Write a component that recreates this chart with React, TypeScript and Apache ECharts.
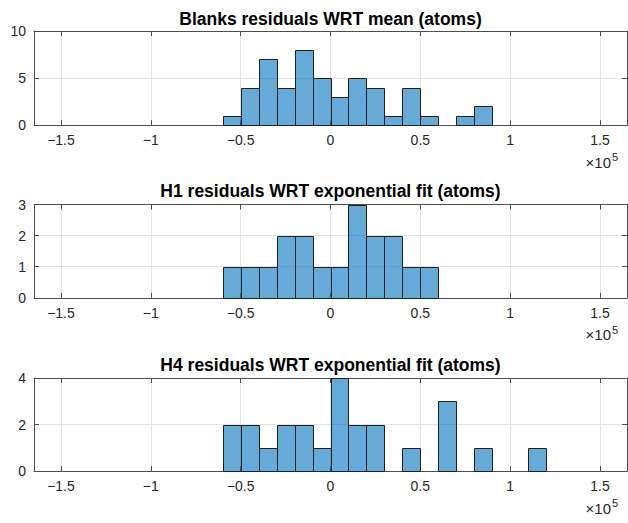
import React, { useEffect, useRef } from "react";
import * as echarts from "echarts";

// Bin left edges (atoms), bin width 1e4
const binStarts = [
  -60000, -50000, -40000, -30000, -20000, -10000, 0, 10000, 20000, 30000,
  40000, 50000, 60000, 70000, 80000, 90000, 100000, 110000,
];
const binWidth = 10000;

const titles = [
  "Blanks residuals WRT mean (atoms)",
  "H1 residuals WRT exponential fit (atoms)",
  "H4 residuals WRT exponential fit (atoms)",
];

const blanksCounts = [1, 4, 7, 4, 8, 5, 3, 5, 4, 1, 4, 1, 0, 1, 2];
const h1Counts = [1, 1, 1, 2, 2, 1, 1, 3, 2, 2, 1, 1];
const h4Counts = [2, 2, 1, 2, 2, 1, 4, 2, 2, 0, 1, 0, 3, 0, 1, 0, 0, 1];

const xTicks = [-150000, -100000, -50000, 0, 50000, 100000, 150000];
const xMin = -165000;
const xMax = 165000;
const yMaxes = [10, 3, 4];
const yIntervals = [5, 1, 2];

const FONT = "'Liberation Sans', Arial, Helvetica, sans-serif";
const AXIS_COLOR = "#4d4d4d";
const GRID_COLOR = "#e2e2e2";
const TEXT_COLOR = "#262626";

const gridTops = [31, 204.5, 378];
const gridHeights = [94.3, 93.3, 93];
const titleYs = [19, 190.5, 364.5];

function fmtX(v: number) {
  const s = v / 100000;
  if (s === 0) return "0";
  return s < 0 ? "\u2212" + String(-s) : String(s);
}

export default function App() {
  const ref = useRef<HTMLDivElement>(null);
  useEffect(() => {
    if (!ref.current) return;
    const chart = echarts.init(ref.current, undefined, { renderer: "svg" });
    const allCounts = [blanksCounts, h1Counts, h4Counts];

    const grids: any[] = [];
    const xAxes: any[] = [];
    const yAxes: any[] = [];
    const series: any[] = [];
    const graphics: any[] = [];

    allCounts.forEach((counts, i) => {
      grids.push({
        left: 34,
        right: 1,
        top: gridTops[i],
        height: gridHeights[i],
        containLabel: false,
      });
      xAxes.push({
        type: "value",
        gridIndex: i,
        position: "bottom",
        min: xMin,
        max: xMax,
        axisLine: { show: true, onZero: false, lineStyle: { color: AXIS_COLOR, width: 1 } },
        axisTick: {
          show: true,
          inside: true,
          length: 5,
          customValues: xTicks,
          lineStyle: { color: AXIS_COLOR, width: 1 },
        },
        axisLabel: {
          show: true,
          customValues: xTicks,
          formatter: (v: number) => fmtX(v),
          color: TEXT_COLOR,
          fontSize: 14,
          fontFamily: FONT,
          margin: 8,
          showMinLabel: true,
          showMaxLabel: true,
        },
        splitLine: { show: true, lineStyle: { color: GRID_COLOR, width: 1 } },
      });
      xAxes.push({
        type: "value",
        gridIndex: i,
        position: "top",
        min: xMin,
        max: xMax,
        axisLine: { show: true, onZero: false, lineStyle: { color: AXIS_COLOR, width: 1 } },
        axisTick: {
          show: true,
          inside: true,
          length: 5,
          customValues: xTicks,
          lineStyle: { color: AXIS_COLOR, width: 1 },
        },
        axisLabel: { show: false },
        splitLine: { show: false },
      });
      yAxes.push({
        type: "value",
        gridIndex: i,
        position: "left",
        min: 0,
        max: yMaxes[i],
        interval: yIntervals[i],
        axisLine: { show: true, onZero: false, lineStyle: { color: AXIS_COLOR, width: 1 } },
        axisTick: { show: true, inside: true, length: 5, lineStyle: { color: AXIS_COLOR, width: 1 } },
        axisLabel: {
          show: true,
          color: TEXT_COLOR,
          fontSize: 14,
          fontFamily: FONT,
          margin: 8,
        },
        splitLine: { show: true, lineStyle: { color: GRID_COLOR, width: 1 } },
      });
      yAxes.push({
        type: "value",
        gridIndex: i,
        position: "right",
        min: 0,
        max: yMaxes[i],
        interval: yIntervals[i],
        axisLine: { show: true, onZero: false, lineStyle: { color: AXIS_COLOR, width: 1 } },
        axisTick: { show: true, inside: true, length: 5, lineStyle: { color: AXIS_COLOR, width: 1 } },
        axisLabel: { show: false },
        splitLine: { show: false },
      });

      const data = counts
        .map((c, k) => [binStarts[k], binStarts[k] + binWidth, c])
        .filter((d) => d[2] > 0);

      series.push({
        type: "custom",
        xAxisIndex: i * 2,
        yAxisIndex: i * 2,
        data,
        encode: { x: [0, 1], y: 2 },
        z: 3,
        renderItem: (_params: any, api: any) => {
          const x0 = api.value(0);
          const x1 = api.value(1);
          const c = api.value(2);
          const p0 = api.coord([x0, c]);
          const p1 = api.coord([x1, 0]);
          const l = Math.round(p0[0]) + 0.5;
          const r = Math.round(p1[0]) + 0.5;
          const t = Math.round(p0[1]) + 0.5;
          const b = Math.round(p1[1]) + 0.5;
          return {
            type: "rect",
            shape: { x: l, y: t, width: r - l, height: b - t },
            style: {
              fill: "rgba(0,114,189,0.6)",
              stroke: "#1f1f1f",
              lineWidth: 1,
            },
          };
        },
      });

      graphics.push({
        type: "text",
        x: 330.5,
        y: titleYs[i],
        style: {
          text: titles[i],
          align: "center",
          verticalAlign: "middle",
          fontSize: 17.5,
          fontWeight: "bold",
          fontFamily: FONT,
          fill: "#000",
        },
      });
      const bottom = gridTops[i] + gridHeights[i];
      graphics.push({
        type: "text",
        x: 611,
        y: bottom + 37,
        style: {
          text: "×10",
          align: "right",
          verticalAlign: "middle",
          fontSize: 15,
          fontFamily: FONT,
          fill: TEXT_COLOR,
        },
      });
      graphics.push({
        type: "text",
        x: 612,
        y: bottom + 32,
        style: {
          text: "5",
          align: "left",
          verticalAlign: "middle",
          fontSize: 11,
          fontFamily: FONT,
          fill: TEXT_COLOR,
        },
      });
    });

    chart.setOption({
      animation: false,
      backgroundColor: "#ffffff",
      grid: grids,
      xAxis: xAxes,
      yAxis: yAxes,
      series,
      graphic: graphics,
    });
    return () => chart.dispose();
  }, []);

  return (
    <div
      ref={ref}
      style={{ position: "fixed", left: 0, top: 0, width: 628, height: 523 }}
    />
  );
}
